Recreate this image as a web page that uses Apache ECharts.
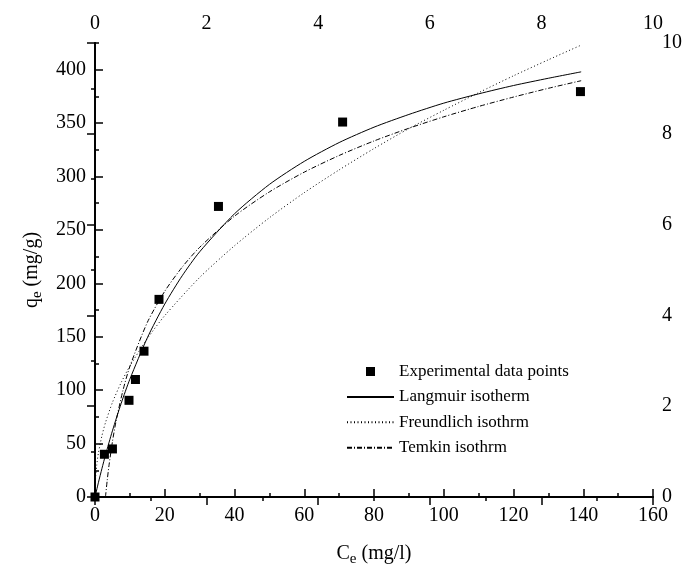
<!DOCTYPE html>
<html><head><meta charset="utf-8">
<script src="https://cdn.jsdelivr.net/npm/echarts@6/dist/echarts.min.js"></script>
<style>html,body{margin:0;padding:0;background:#fff}#c{width:683px;height:565px}</style>
</head><body><div id="c"></div>
<script>
// Experimental data points (Ce mg/l, qe mg/g)
const expC = [0, 2.7, 5.0, 9.75, 11.6, 14.05, 18.35, 35.4, 71.0, 139.2];
const expQ = [0, 40, 45, 90.5, 110, 136.5, 185, 272, 351, 379.5];
// Langmuir isotherm curve
const langC = [0, 1, 2, 3, 5, 7.5, 10, 15, 20, 25, 30, 40, 50, 60, 70, 80, 90, 100, 110, 120, 130, 139.4];
const langQ = [0, 13.8, 26.8, 39.2, 62.0, 87.6, 110.3, 149.0, 180.6, 207.1, 229.5, 265.1, 292.6, 314.2, 331.8, 346.2, 358.1, 368.7, 377.4, 385.2, 392.0, 398];
// Freundlich isotherm curve
const freC = [0, 0.2, 0.5, 1, 2, 3, 5, 7.5, 10, 15, 20, 30, 40, 50, 60, 70, 80, 90, 100, 110, 120, 130, 139.4];
const freQ = [0, 19.5, 30.0, 41.6, 57.5, 69.6, 88.5, 107.1, 122.6, 148.3, 169.8, 205.5, 235.2, 261.4, 284.9, 306.2, 326.2, 344.9, 362, 378.5, 394.3, 409.3, 423];
// Temkin isotherm curve
const temC = [3.0, 3.5, 4, 5, 6, 8, 10, 15, 20, 25, 30, 40, 50, 60, 70, 80, 90, 100, 110, 120, 130, 139.4];
const temQ = [0, 15.6, 29.2, 51.8, 70.4, 99.6, 122.2, 163.4, 192.6, 215.2, 233.7, 262.9, 285.6, 304.1, 319.7, 333.3, 345.2, 355.9, 365.6, 374.4, 382.6, 389.7];
// Axis ranges and tick steps
const bottomTicks = {min: 0, max: 160, interval: 20, minor: 10};
const topTicks = {min: 0, max: 10, interval: 2, minor: 1};
const leftTicks = {min: 0, max: 425, interval: 50, minor: 25};
const rightTicks = {min: 0, max: 10, interval: 2, minor: 1};
const seriesNames = ['Experimental data points', 'Langmuir isotherm', 'Freundlich isothrm', 'Temkin isothrm'];

const pairs = (xs, ys) => xs.map((x, i) => [x, ys[i]]);
const FONT = 'Liberation Serif';
const black = '#000';
const lineAx = {show: true, lineStyle: {color: black, width: 1.8}};
const tickMajor = {show: true, inside: true, length: 8, lineStyle: {color: black, width: 1.5}};
const tickMinor = {show: true, inside: true, length: 4, lineStyle: {color: black, width: 1.5}};
const lbl = {color: black, fontFamily: FONT, fontSize: 20, margin: 9};
const nameRich = {
  t: {fontFamily: FONT, fontSize: 20, color: black},
  s: {fontFamily: FONT, fontSize: 15, color: black, padding: [11, 0, 0, 0]}
};
const base = (t) => ({type: 'value', min: t.min, max: t.max, splitLine: {show: false}});
const major = (t, pos) => Object.assign(base(t), {position: pos, interval: t.interval,
  axisLine: lineAx, axisTick: tickMajor, axisLabel: lbl});
const minor = (t, pos) => Object.assign(base(t), {position: pos, interval: t.minor,
  axisLine: {show: false}, axisTick: tickMinor, axisLabel: {show: false}});

const xb = major(bottomTicks, 'bottom');
xb.name = '{t|C}{s|e}{t| (mg/l)}'; xb.nameLocation = 'middle'; xb.nameGap = 44;
xb.nameTextStyle = {rich: nameRich};
const yl = major(leftTicks, 'left');
yl.axisLabel = Object.assign({}, lbl, {showMaxLabel: false});
yl.name = '{t|q}{s|e}{t| (mg/g)}'; yl.nameLocation = 'middle'; yl.nameGap = 50;
yl.nameTextStyle = {rich: nameRich};

const lineItem = {color: 'rgba(0,0,0,0)'};
const chart = echarts.init(document.getElementById('c'), null, {renderer: 'canvas'});
chart.setOption({
  backgroundColor: '#fff',
  animation: false,
  grid: {left: 95, right: 30, top: 43, bottom: 68, containLabel: false, outerBoundsMode: 'none'},
  legend: {
    orient: 'vertical', left: 346, top: 363, padding: 0,
    itemWidth: 47, itemHeight: 9, itemGap: 8.4,
    textStyle: {fontFamily: FONT, fontSize: 17, color: black},
    data: [
      {name: seriesNames[0], icon: 'path://M0 0H10V10H0Z', itemStyle: {color: black, opacity: 1}},
      {name: seriesNames[1]}, {name: seriesNames[2]}, {name: seriesNames[3]}
    ]
  },
  xAxis: [xb, major(topTicks, 'top'), minor(bottomTicks, 'bottom'), minor(topTicks, 'top')],
  yAxis: [yl, major(rightTicks, 'right'), minor(leftTicks, 'left'), minor(rightTicks, 'right')],
  series: [
    {name: seriesNames[1], type: 'line', data: pairs(langC, langQ), symbol: 'circle', showSymbol: false, smooth: 0.25,
     lineStyle: {color: black, width: 1}, itemStyle: lineItem, z: 3},
    {name: seriesNames[2], type: 'line', data: pairs(freC, freQ), symbol: 'circle', showSymbol: false, smooth: 0.25,
     lineStyle: {color: black, width: 1, type: [1, 2.5]}, itemStyle: lineItem, z: 3},
    {name: seriesNames[3], type: 'line', data: pairs(temC, temQ), symbol: 'circle', showSymbol: false, smooth: 0.25,
     lineStyle: {color: black, width: 1, type: [5, 2, 1, 2]}, itemStyle: lineItem, z: 3},
    {name: seriesNames[0], type: 'scatter', data: pairs(expC, expQ), symbol: 'rect', symbolSize: 9,
     itemStyle: {color: black, opacity: 1}, z: 5}
  ]
});
</script></body></html>
